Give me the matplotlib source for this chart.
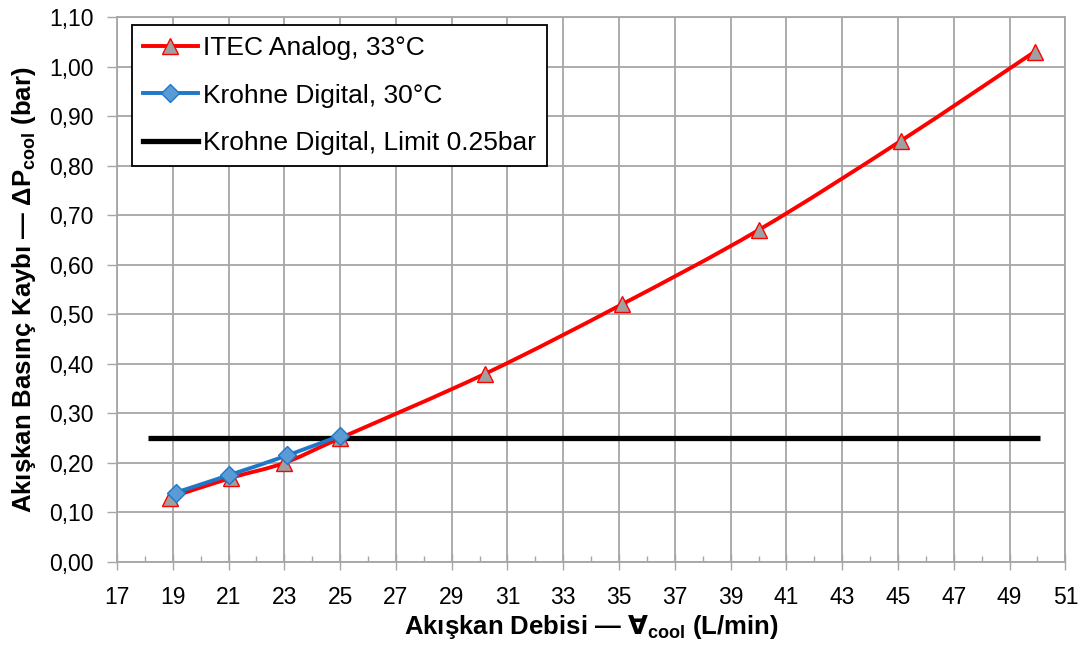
import numpy as np
import matplotlib
matplotlib.use("Agg")
import matplotlib.pyplot as plt
from matplotlib.path import Path
from matplotlib.patches import PathPatch
from matplotlib.lines import Line2D
from matplotlib.ticker import FuncFormatter, FixedLocator

plt.rcParams['font.family'] = ['Liberation Sans', 'DejaVu Sans']
plt.rcParams['mathtext.fontset'] = 'custom'
plt.rcParams['mathtext.rm'] = 'Liberation Sans'
plt.rcParams['mathtext.bf'] = 'Liberation Sans:bold'
plt.rcParams['mathtext.sf'] = 'DejaVu Sans:bold'

# Data
itec_x = [18.9, 21.1, 23.0, 25.0, 30.2, 35.1, 40.0, 45.1, 49.9]
itec_y = [0.13, 0.17, 0.20, 0.25, 0.38, 0.52, 0.67, 0.85, 1.03]
krohne_x = [19.1, 21.0, 23.1, 25.0]
krohne_y = [0.14, 0.175, 0.215, 0.255]
limit_x = [18.1, 50.1]
limit_y = [0.25, 0.25]

labels = ["ITEC Analog, 33°C", "Krohne Digital, 30°C", "Krohne Digital, Limit 0.25bar"]
x_ticks = list(range(17, 52, 2))
y_ticks = [0.0, 0.1, 0.2, 0.3, 0.4, 0.5, 0.6, 0.7, 0.8, 0.9, 1.0, 1.1]


def smooth_path(xs, ys):
    # Catmull-Rom style Bezier (Excel "smoothed line") through the points
    xs = np.asarray(xs, float); ys = np.asarray(ys, float)
    pts = np.column_stack([xs, ys])
    verts = [pts[0]]
    codes = [Path.MOVETO]
    n = len(pts)
    for i in range(n - 1):
        p0 = pts[i - 1] if i > 0 else pts[i]
        p1 = pts[i]
        p2 = pts[i + 1]
        p3 = pts[i + 2] if i + 2 < n else pts[i + 1]
        c1 = p1 + (p2 - p0) / 6.0
        c2 = p2 - (p3 - p1) / 6.0
        verts += [c1, c2, p2]
        codes += [Path.CURVE4] * 3
    return Path(verts, codes)


fig = plt.figure(figsize=(10.87, 6.45), dpi=100)
ax = fig.add_axes([0.1076, 0.1287, 0.8725, 0.8449])

red = '#ff0000'
blue = '#1f77c8'
grid_c = '#a6a6a6'
lw_series = 2.8
lw_limit = 3.8

ax.plot(limit_x, limit_y, color='black', lw=lw_limit, solid_capstyle='butt', zorder=3)
ax.add_patch(PathPatch(smooth_path(itec_x, itec_y), fill=False, edgecolor=red, lw=lw_series, zorder=4))
ax.plot(itec_x, itec_y, ls='none', marker='^', ms=11, mfc='#a0a0a0', mec=red, mew=1.0, zorder=5)
ax.add_patch(PathPatch(smooth_path(krohne_x, krohne_y), fill=False, edgecolor=blue, lw=lw_series, zorder=6))
ax.plot(krohne_x, krohne_y, ls='none', marker='D', ms=9, mfc='#5b9bd5', mec=blue, mew=1.0, zorder=7)

ax.set_xlim(17, 51)
ax.set_ylim(0, 1.10)
ax.xaxis.set_major_locator(FixedLocator(x_ticks))
ax.xaxis.set_minor_locator(FixedLocator([t + 1 for t in x_ticks[:-1]]))
ax.yaxis.set_major_locator(FixedLocator(y_ticks))
ax.yaxis.set_major_formatter(FuncFormatter(lambda v, p: f"{v:.2f}".replace('.', ',')))
ax.grid(True, which='major', color=grid_c, lw=1.3, zorder=0)
ax.set_axisbelow(True)
for s in ax.spines.values():
    s.set_color(grid_c)
    s.set_linewidth(1.3)
ax.tick_params(axis='both', which='major', labelsize=16.5, color=grid_c, width=1.0)
ax.tick_params(axis='x', which='major', direction='inout', length=12, pad=11)
ax.tick_params(axis='x', which='minor', direction='in', length=4, color=grid_c, width=1.0)
ax.tick_params(axis='y', which='major', direction='out', length=7, pad=10)

ax.set_xlabel("Akışkan Debisi — $\\mathsf{∀}_\\mathbf{cool}$ (L/min)", fontsize=18.5, fontweight='bold', labelpad=3)
ax.set_ylabel("Akışkan Basınç Kaybı — ΔP$_\\mathbf{cool}$ (bar)", fontsize=18.5, fontweight='bold', labelpad=8)

handles = [
    Line2D([], [], color=red, lw=lw_series, marker='^', ms=11, mfc='#a0a0a0', mec=red),
    Line2D([], [], color=blue, lw=lw_series, marker='D', ms=9, mfc='#5b9bd5', mec=blue),
    Line2D([], [], color='black', lw=lw_limit),
]
leg = ax.legend(handles, labels, loc='upper left', bbox_to_anchor=(0.0158, 0.985), fontsize=19,
                frameon=True, fancybox=False, edgecolor='black', framealpha=1,
                handlelength=2.1, handletextpad=0.2, borderpad=0.4, labelspacing=0.9,
                borderaxespad=0)
leg.get_frame().set_linewidth(1.3)

fig.savefig('out.png', dpi=100)
